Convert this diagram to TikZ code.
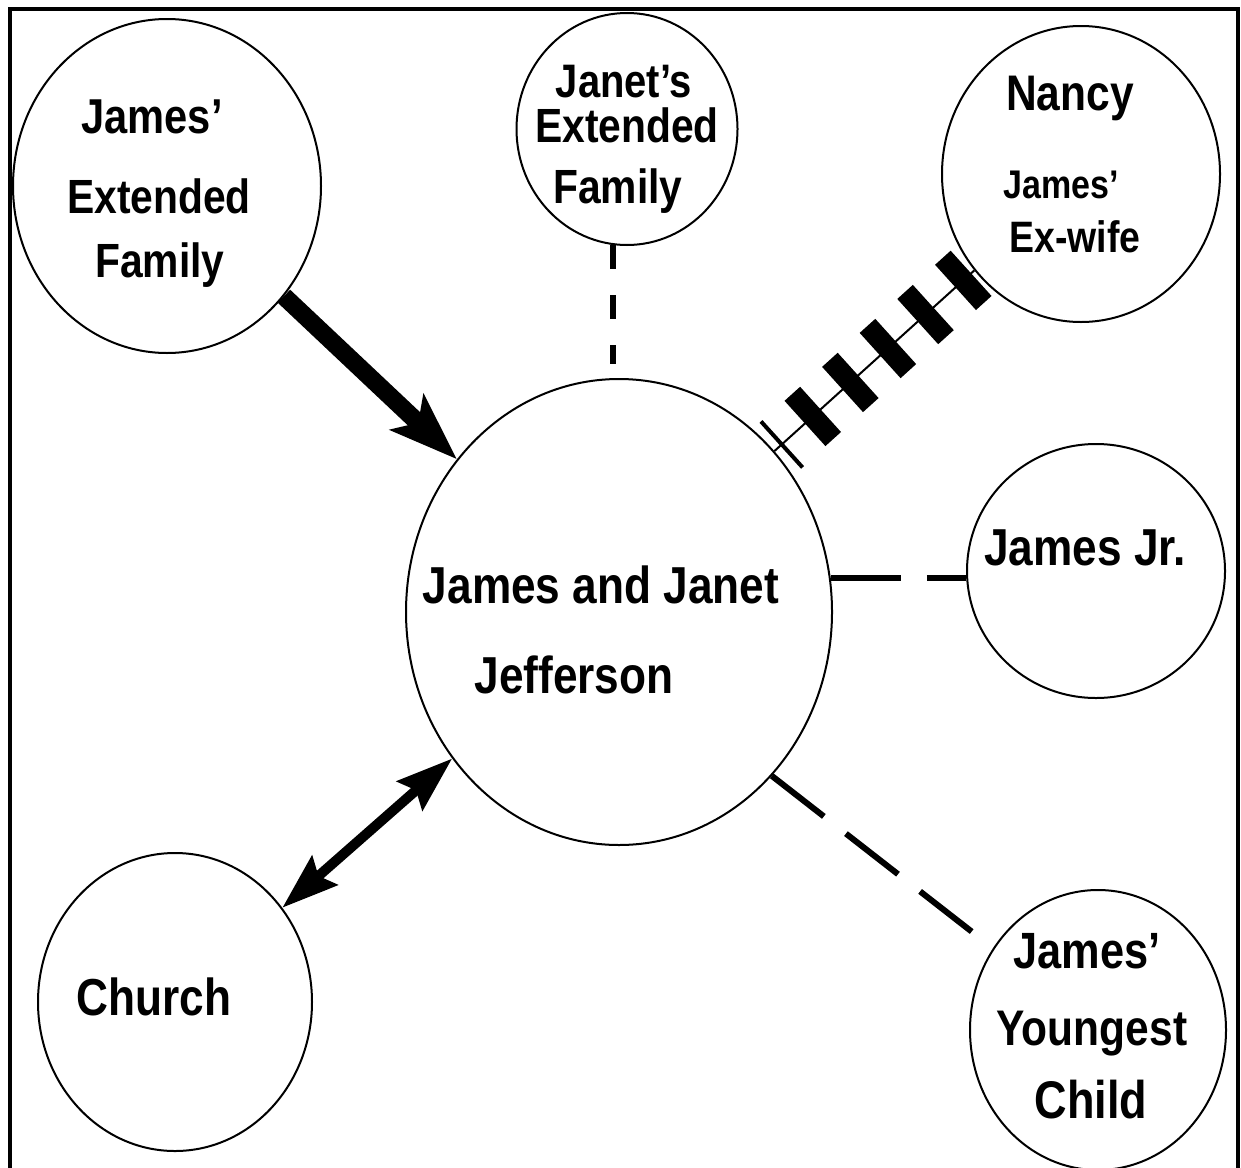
\documentclass[tikz,border=0pt]{standalone}
\usepackage{fontspec}
\setmainfont[FakeStretch=0.85]{Liberation Sans}
\usetikzlibrary{shapes.geometric, arrows.meta}

\tikzset{
    blob/.style={draw, ellipse, line width=2pt, inner sep=0pt},
    lbl/.style={inner sep=0pt, anchor=base, font=\bfseries\fontsize{#1}{#1}\selectfont},
    gap/.style={line width=6pt, dash pattern={#1}},
    brick/.style={fill, sloped, inner sep=0pt, minimum width=21pt, minimum height=61pt},
    bar/.style={fill, sloped, inner sep=0pt, minimum width=4pt, minimum height=62pt},
    big/.style={line width=18pt, -{Stealth[length=68pt, width=48pt, inset=15pt]}},
    both/.style={line width=10pt, {Stealth[length=56pt, width=38pt, inset=8pt]}-{Stealth[length=56pt, width=38pt, inset=8pt]}},
}

\begin{document}
\begin{tikzpicture}[x=1pt, y=-1pt]
        \useasboundingbox (0,0) rectangle (1241,1167);
        \draw[line width=4pt] (10,1200) -- (10,8.5) -- (1238,8.5) -- (1238,1200);

        % circles
        \node[blob, minimum width=308pt, minimum height=334pt] (jext) at (167,186) {};
        \node[blob, minimum width=221pt, minimum height=232pt] (janet) at (627,129) {};
        \node[blob, minimum width=278pt, minimum height=296pt] (nancy) at (1081,174) {};
        \node[blob, minimum width=426pt, minimum height=466pt] (couple) at (619,612) {};
        \node[blob, minimum width=258pt, minimum height=254pt] (jr) at (1096,571) {};
        \node[blob, minimum width=256pt, minimum height=280pt] (young) at (1098,1030) {};
        \node[blob, minimum width=274pt, minimum height=298pt] (church) at (175,1002) {};

        % labels
        \node[lbl=49pt] (jext1) at (152,133) {James'};
        \node[lbl=48pt] (jext2) at (159,213) {Extended};
        \node[lbl=48pt] (jext3) at (160,277) {Family};
        \node[lbl=47pt] (janet1) at (624,97) {Janet's};
        \node[lbl=48pt] (janet2) at (627,142) {Extended};
        \node[lbl=48pt] (janet3) at (618,203) {Family};
        \node[lbl=50pt] (nancy1) at (1070,110) {Nancy};
        \node[lbl=40pt] (nancy2) at (1061,198) {James'};
        \node[lbl=44pt] (nancy3) at (1075,252) {Ex-wife};
        \node[lbl=52pt] (couple1) at (601,603) {James and Janet};
        \node[lbl=52pt] (couple2) at (574,693) {Jefferson};
        \node[lbl=52pt] (jr1) at (1085,565) {James Jr.};
        \node[lbl=52pt] (church1) at (154,1015) {Church};
        \node[lbl=51pt] (young1) at (1087,968) {James'};
        \node[lbl=50pt] (young2) at (1092,1045) {Youngest};
        \node[lbl=53pt] (young3) at (1091,1118) {Child};

        % ties
        \draw[big] (jext) -- (couple);
        \draw[both] (church) -- (couple);
        \draw[gap={on 24pt off 26pt}, shorten >=14pt] (janet.-97) -- (janet.-97 |- couple.north);
        \draw[gap={on 70pt off 26pt}] (couple.9) -- (couple.9 -| jr.west);
        \draw[gap={on 66pt off 28pt}, shorten >=27pt] (couple.-47) -- (young);

        \draw[line width=2pt] (couple.46) -- (nancy) node[bar, pos=0.037] (cut) {};
        \foreach \p [count=\i] in {0.192, 0.380, 0.568, 0.756, 0.945}
            \path (couple.46) -- (nancy) node[brick, pos=\p] (h\i) {};
\end{tikzpicture}
\end{document}
